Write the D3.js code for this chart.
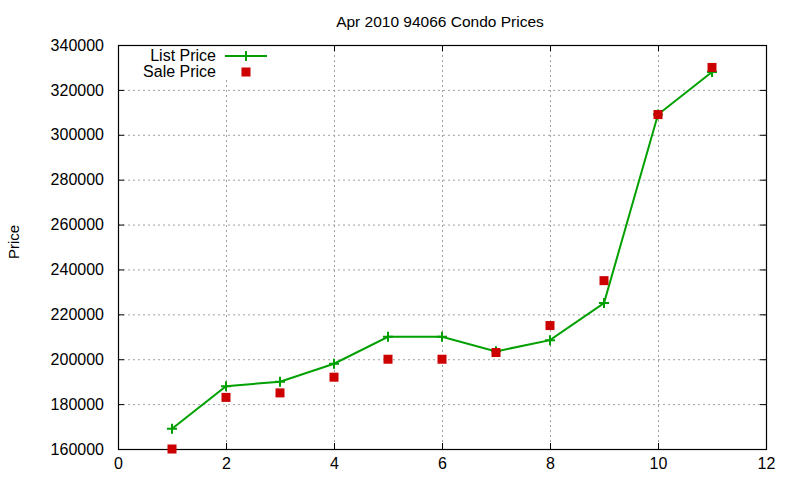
<!DOCTYPE html>
<html>
<head>
<meta charset="utf-8">
<script src="https://cdn.jsdelivr.net/npm/d3@7"></script>
<style>
  body { margin: 0; background: #fff; }
  text { font-family: "Liberation Sans", Arial, sans-serif; fill: #000; }
</style>
</head>
<body>
<script>
// data
const months = [1, 2, 3, 4, 5, 6, 7, 8, 9, 10, 11];
const listPrice = [169000, 188000, 190000, 198000, 210000, 210000, 203500, 208500, 225000, 309000, 328000];
const salePrice = [160000, 183000, 185000, 192000, 200000, 200000, 203000, 215000, 235000, 309000, 330000];
const xTicks = [0, 2, 4, 6, 8, 10, 12];
const yTicks = [160000, 180000, 200000, 220000, 240000, 260000, 280000, 300000, 320000, 340000];

const w = 800, h = 480;
const m = { top: 45, right: 34, bottom: 31, left: 118 };

const svg = d3.select("body").append("svg")
  .attr("width", w)
  .attr("height", h);

const x = d3.scaleLinear().domain([0, 12]).range([m.left, w - m.right]);
const y = d3.scaleLinear().domain([160000, 340000]).range([h - m.bottom, m.top]);

// grid
const grid = svg.append("g")
  .attr("stroke", "#a0a0a0")
  .attr("stroke-width", 1)
  .attr("stroke-dasharray", "2,3");

grid.selectAll("line.gx")
  .data(xTicks.slice(1, -1))
  .enter().append("line")
  .attr("x1", d => x(d) + 0.5).attr("x2", d => x(d) + 0.5)
  .attr("y1", y(340000)).attr("y2", y(160000));

grid.selectAll("line.gy")
  .data(yTicks.slice(1, -1))
  .enter().append("line")
  .attr("x1", x(0)).attr("x2", x(12))
  .attr("y1", d => y(d) + 0.5).attr("y2", d => y(d) + 0.5);

// axes with inward ticks, mirrored
const tk = 6;
const axB = d3.axisBottom(x).tickValues(xTicks).tickSize(-tk).tickPadding(tk + 3).tickFormat(d3.format("d"));
const axT = d3.axisTop(x).tickValues(xTicks).tickSize(-tk).tickFormat("");
const axL = d3.axisLeft(y).tickValues(yTicks).tickSize(-tk).tickPadding(tk + 8).tickFormat(d3.format("d"));
const axR = d3.axisRight(y).tickValues(yTicks).tickSize(-tk).tickFormat("");

function styleAxis(g) {
  g.select(".domain").remove();
  g.selectAll(".tick line").attr("stroke", "#000");
  g.selectAll("text").style("font-size", "16px")
    .style("font-family", "'Liberation Sans', Arial, sans-serif").attr("fill", "#000");
}

svg.append("g").attr("transform", `translate(0,${h - m.bottom})`).call(axB).call(styleAxis);
svg.append("g").attr("transform", `translate(0,${m.top})`).call(axT).call(styleAxis);
svg.append("g").attr("transform", `translate(${m.left},0)`).call(axL).call(styleAxis);
svg.append("g").attr("transform", `translate(${w - m.right},0)`).call(axR).call(styleAxis);

// legend background hides the grid behind it
svg.append("rect")
  .attr("x", 130).attr("y", m.top + 1)
  .attr("width", 145).attr("height", 34)
  .attr("fill", "#fff");

// border
svg.append("rect")
  .attr("x", x(0) + 0.5).attr("y", y(340000) + 0.5)
  .attr("width", x(12) - x(0)).attr("height", y(160000) - y(340000))
  .attr("fill", "none")
  .attr("stroke", "#000")
  .attr("stroke-width", 1.2);

// list price line
const green = "#00a000";
const line = d3.line().x((d, i) => x(months[i])).y(d => y(d));

svg.append("path")
  .datum(listPrice)
  .attr("d", line)
  .attr("fill", "none")
  .attr("stroke", green)
  .attr("stroke-width", 2);

const ps = 5;
svg.append("g").selectAll("path")
  .data(listPrice)
  .enter().append("path")
  .attr("d", (d, i) => {
    const cx = x(months[i]), cy = y(d);
    return `M${cx - ps},${cy}H${cx + ps}M${cx},${cy - ps}V${cy + ps}`;
  })
  .attr("stroke", green)
  .attr("stroke-width", 2);

// sale price squares
const red = "#cc0000";
const sq = 9;
svg.append("g").selectAll("rect")
  .data(salePrice)
  .enter().append("rect")
  .attr("x", (d, i) => x(months[i]) - sq / 2)
  .attr("y", d => y(d) - sq / 2)
  .attr("width", sq).attr("height", sq)
  .attr("fill", red);

// legend
const legend = svg.append("g").style("font-size", "16px");
legend.append("text").attr("x", 216).attr("y", 61).attr("text-anchor", "end").text("List Price");
legend.append("line").attr("x1", 225).attr("x2", 267).attr("y1", 56).attr("y2", 56)
  .attr("stroke", green).attr("stroke-width", 2);
legend.append("path").attr("d", `M246,${56 - ps}V${56 + ps}`).attr("stroke", green).attr("stroke-width", 2);
legend.append("text").attr("x", 216).attr("y", 77).attr("text-anchor", "end").text("Sale Price");
legend.append("rect").attr("x", 246 - sq / 2).attr("y", 72 - sq / 2)
  .attr("width", sq).attr("height", sq).attr("fill", red);

// title and y label
svg.append("text")
  .attr("x", 440).attr("y", 27)
  .attr("text-anchor", "middle")
  .style("font-size", "15.5px")
  .text("Apr 2010 94066 Condo Prices");

svg.append("text")
  .attr("transform", "translate(19,242) rotate(-90)")
  .attr("text-anchor", "middle")
  .style("font-size", "15px")
  .text("Price");
</script>
</body>
</html>
